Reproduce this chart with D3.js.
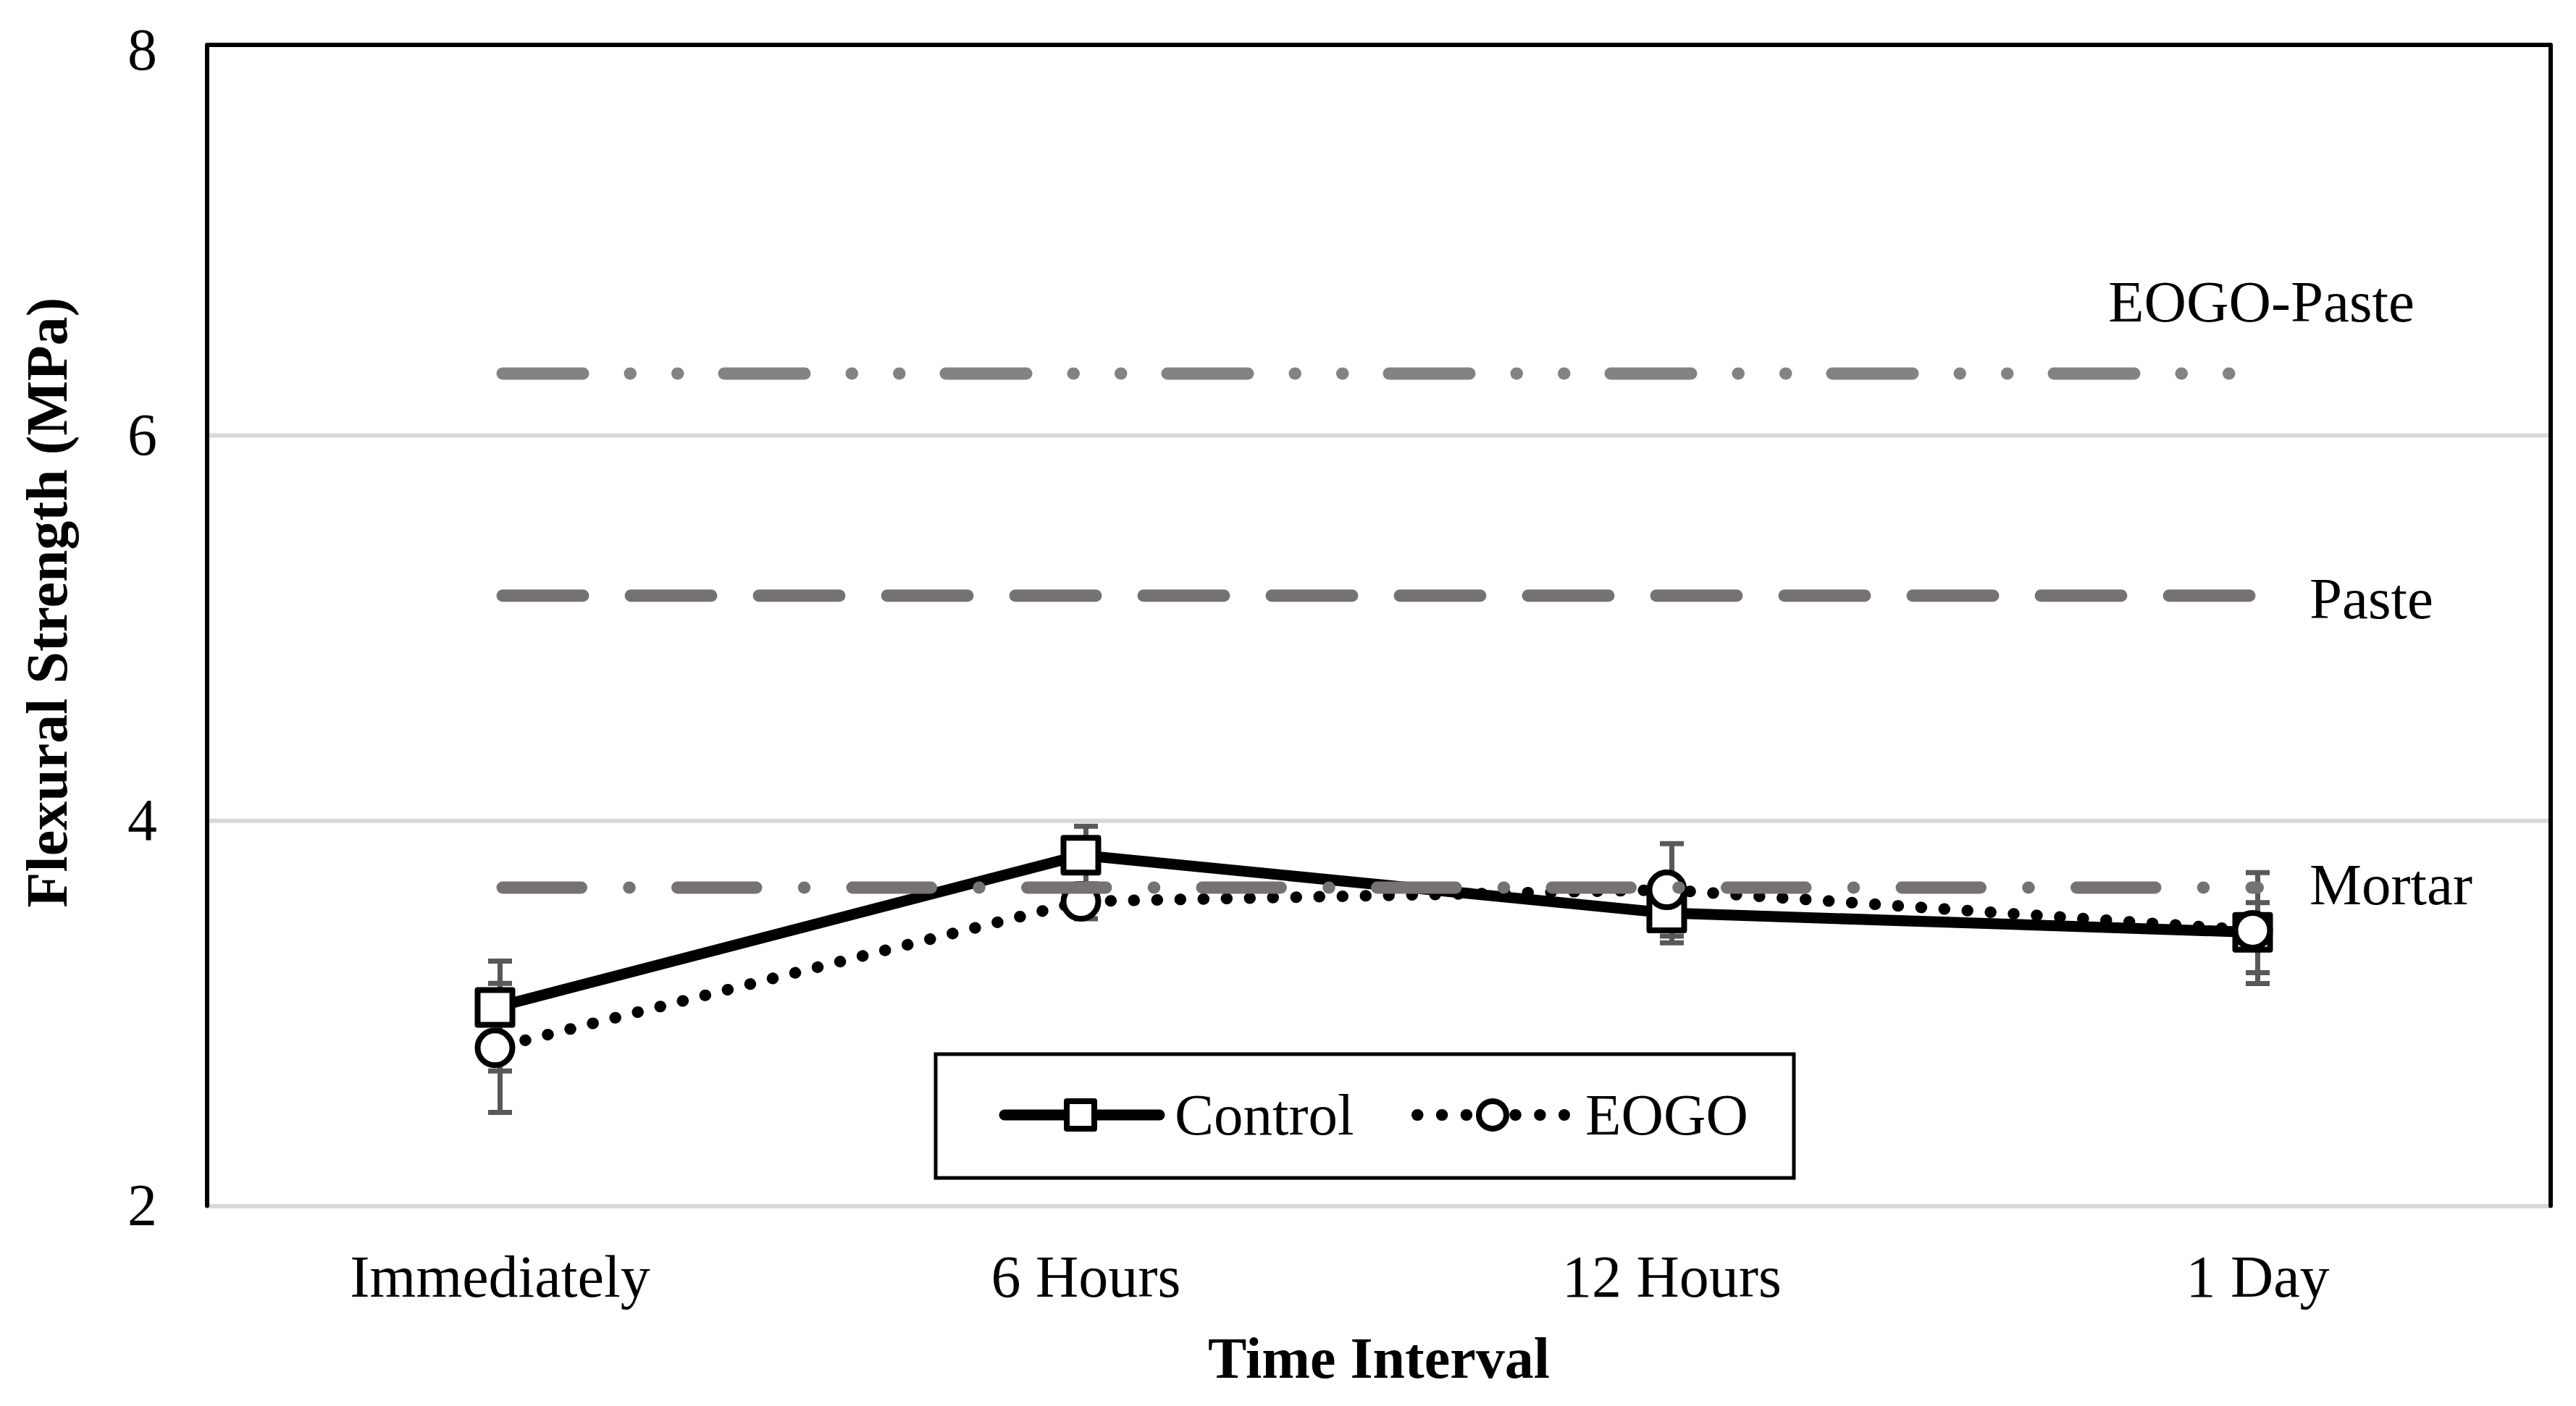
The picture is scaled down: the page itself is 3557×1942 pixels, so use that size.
<!DOCTYPE html>
<html><head><meta charset="utf-8">
<script src="https://cdn.jsdelivr.net/npm/d3@7"></script>
<style>html,body{margin:0;padding:0;background:#fff;} svg{display:block;}</style>
</head><body>
<svg id="chart" width="3557" height="1942"></svg>
<script>
// ---------- data ----------
const categories = ["Immediately", "6 Hours", "12 Hours", "1 Day"];
const controlValues    = [3.03, 3.82, 3.52, 3.42];
const controlErrPlus   = [0.24, 0.15, 0.155, 0.154];
const controlErrMinus  = [0.33, 0.15, 0.155, 0.21];
const eogoValues       = [2.82, 3.58, 3.64, 3.43];
const eogoErrPlus      = [0.335, 0.09, 0.24, 0.30];
const eogoErrMinus     = [0.335, 0.09, 0.24, 0.276];
const referenceNames   = ["EOGO-Paste", "Paste", "Mortar"];
const referenceValues  = [6.32, 5.167, 3.652];
const yTicks = [2, 4, 6, 8];
const gridTicks = [2, 4, 6];
const seriesNames = ["Control", "EOGO"];
const xTitle = "Time Interval";
const yTitle = "Flexural Strength (MPa)";

// ---------- layout ----------
const W = 3557, H = 1942;
const left = 286, right = 3522, frameTop = 62, bottom = 1665.5;
const FONT = "'Liberation Serif', 'Times New Roman', serif";
const svg = d3.select("#chart");
svg.append("rect").attr("width", W).attr("height", H).attr("fill", "#fff");

const x = d3.scaleBand().domain(categories).range([left, right]);
const xc = c => x(c) + x.bandwidth() / 2;
const y = d3.scaleLinear().domain([2, 8]).range([bottom, 68.9]);
const markerShift = -7;

// gridlines
const grid = svg.append("g").attr("transform", `translate(${left},0)`)
  .call(d3.axisLeft(y).tickValues(gridTicks).tickSize(-(right - left)).tickFormat(""));
grid.select(".domain").remove();
grid.selectAll("line").attr("stroke", "#d9d9d9").attr("stroke-width", 6);

// frame (left, top, right)
svg.append("path")
  .attr("d", `M${left},${bottom} V${frameTop} H${right} V${bottom}`)
  .attr("fill", "none").attr("stroke", "#000").attr("stroke-width", 6)
  .attr("stroke-linejoin", "round").attr("stroke-linecap", "round");

// y axis labels
const yAxis = svg.append("g").attr("transform", `translate(${left},0)`)
  .call(d3.axisLeft(y).tickValues(yTicks).tickSize(0).tickPadding(69).tickFormat(d3.format("d")));
yAxis.select(".domain").remove();
yAxis.selectAll("text").attr("font-family", FONT).attr("font-size", 82).attr("fill", "#000");

// x axis labels
const xAxis = svg.append("g").attr("transform", `translate(0,${bottom})`)
  .call(d3.axisBottom(x).tickSize(0).tickPadding(0));
xAxis.select(".domain").remove();
xAxis.selectAll("text").attr("y", 125.2).attr("dy", null)
  .attr("font-family", FONT).attr("font-size", 82).attr("fill", "#000");

// axis titles
svg.append("text").attr("x", (left + right) / 2).attr("y", 1902.5)
  .attr("text-anchor", "middle").attr("font-family", FONT).attr("font-size", 80)
  .attr("font-weight", "bold").text(xTitle);
svg.append("text").attr("transform", "translate(92,832) rotate(-90)")
  .attr("text-anchor", "middle").attr("font-family", FONT).attr("font-size", 80)
  .attr("font-weight", "bold").text(yTitle);

// error bars
function errorBars(vals, plus, minus) {
  const g = svg.append("g").attr("stroke", "#595959").attr("stroke-width", 7);
  categories.forEach((c, i) => {
    const cx = xc(c), yt = y(vals[i] + plus[i]), yb = y(vals[i] - minus[i]);
    g.append("line").attr("x1", cx).attr("x2", cx).attr("y1", yt).attr("y2", yb);
    g.append("line").attr("x1", cx - 16.5).attr("x2", cx + 16.5).attr("y1", yt).attr("y2", yt);
    g.append("line").attr("x1", cx - 16.5).attr("x2", cx + 16.5).attr("y1", yb).attr("y2", yb);
  });
}
errorBars(controlValues, controlErrPlus, controlErrMinus);
errorBars(eogoValues, eogoErrPlus, eogoErrMinus);

const line = d3.line().x(d => xc(d.c) + markerShift).y(d => y(d.v));
const ctrlData = categories.map((c, i) => ({ c, v: controlValues[i] }));
const eogoData = categories.map((c, i) => ({ c, v: eogoValues[i] }));

// Control series
svg.append("path").datum(ctrlData).attr("d", line)
  .attr("fill", "none").attr("stroke", "#000").attr("stroke-width", 15)
  .attr("stroke-linejoin", "round").attr("stroke-linecap", "round");
svg.append("g").selectAll("rect").data(ctrlData).join("rect")
  .attr("x", d => xc(d.c) + markerShift - 24).attr("y", d => y(d.v) - 24)
  .attr("width", 48).attr("height", 48)
  .attr("fill", "#fff").attr("stroke", "#000").attr("stroke-width", 8).attr("stroke-linejoin", "round");

// EOGO series
svg.append("path").datum(eogoData).attr("d", line)
  .attr("fill", "none").attr("stroke", "#000").attr("stroke-width", 16)
  .attr("stroke-dasharray", "0.5 31.5").attr("stroke-dashoffset", -11)
  .attr("stroke-linecap", "round");
svg.append("g").selectAll("circle").data(eogoData).join("circle")
  .attr("cx", d => xc(d.c) + markerShift).attr("cy", d => y(d.v)).attr("r", 24)
  .attr("fill", "#fff").attr("stroke", "#000").attr("stroke-width", 8);

// reference lines
const refColors = ["#838383", "#777272", "#777272"];
const refDash = ["111 65 0.5 65 0.5 64", "111 66", "108.5 66.25 0.5 66.25"];
const x0 = xc(categories[0]) + 3.5, x1 = xc(categories[categories.length - 1]);
referenceNames.forEach((n, i) => {
  svg.append("line").attr("x1", x0).attr("x2", x1)
    .attr("y1", y(referenceValues[i])).attr("y2", y(referenceValues[i]))
    .attr("stroke", refColors[i]).attr("stroke-width", 17)
    .attr("stroke-linecap", "round").attr("stroke-dasharray", refDash[i]);
});
// reference labels
const refLabelPos = [[2911, 444], [3189, 854], [3189, 1249]];
referenceNames.forEach((n, i) => {
  svg.append("text").attr("x", refLabelPos[i][0]).attr("y", refLabelPos[i][1])
    .attr("font-family", FONT).attr("font-size", 81).attr("fill", "#000").text(n);
});

// legend
const lg = svg.append("g");
lg.append("rect").attr("x", 1292).attr("y", 1456).attr("width", 1185).attr("height", 171)
  .attr("fill", "#fff").attr("stroke", "#000").attr("stroke-width", 5);
lg.append("line").attr("x1", 1387).attr("x2", 1601).attr("y1", 1540).attr("y2", 1540)
  .attr("stroke", "#000").attr("stroke-width", 15).attr("stroke-linecap", "round");
lg.append("rect").attr("x", 1492 - 19).attr("y", 1540 - 19).attr("width", 38).attr("height", 38)
  .attr("fill", "#fff").attr("stroke", "#000").attr("stroke-width", 8).attr("stroke-linejoin", "round");
lg.append("text").attr("x", 1622).attr("y", 1567).attr("font-family", FONT).attr("font-size", 81)
  .text(seriesNames[0]);
lg.append("line").attr("x1", 1957).attr("x2", 2160).attr("y1", 1540).attr("y2", 1540)
  .attr("stroke", "#000").attr("stroke-width", 16).attr("stroke-linecap", "round")
  .attr("stroke-dasharray", "0.5 33.33");
lg.append("circle").attr("cx", 2061).attr("cy", 1540).attr("r", 19)
  .attr("fill", "#fff").attr("stroke", "#000").attr("stroke-width", 8);
lg.append("text").attr("x", 2189).attr("y", 1567).attr("font-family", FONT).attr("font-size", 81)
  .text(seriesNames[1]);
</script>
</body></html>
